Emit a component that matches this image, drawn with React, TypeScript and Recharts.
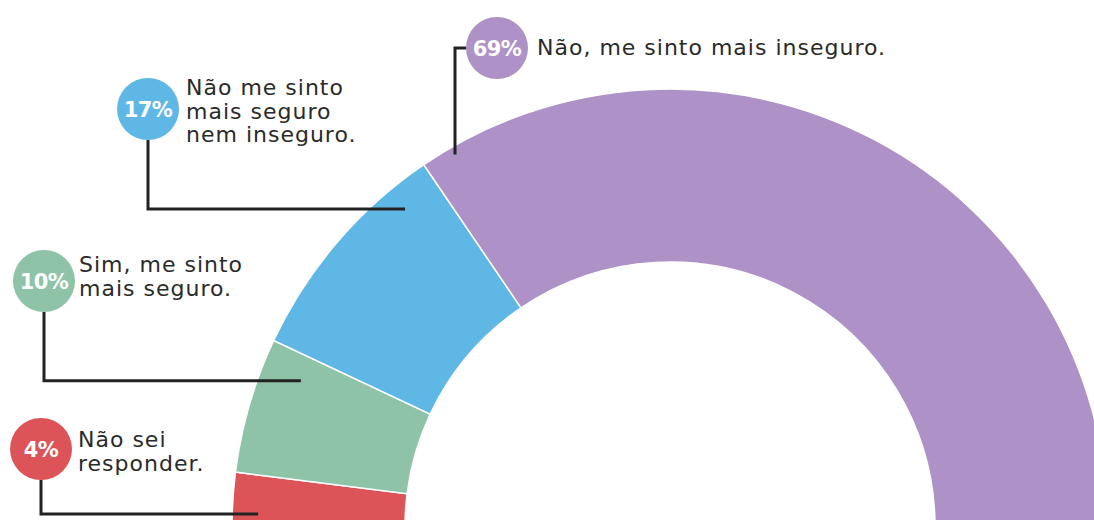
import React from "react";
import { PieChart, Pie, Cell } from "recharts";

const categories = [
  "Não sei responder.",
  "Sim, me sinto mais seguro.",
  "Não me sinto mais seguro nem inseguro.",
  "Não, me sinto mais inseguro.",
];
const values = [4, 10, 17, 69];
const labelLines = [
  ["Não sei", "responder."],
  ["Sim, me sinto", "mais seguro."],
  ["Não me sinto", "mais seguro", "nem inseguro."],
  ["Não, me sinto mais inseguro."],
];
const colors = ["#DD5458", "#8EC3A7", "#5FB7E5", "#AD91C7"];

// annotation layout (badge centre, anchor on slice as angle/radius, text start)
const layout = [
  { bx: 41, by: 449, aAngle: 178.2, aR: 412, tx: 78, ty: 447, kind: "down" },
  { bx: 44, by: 281, aAngle: 158.4, aR: 397, tx: 79, ty: 272, kind: "down" },
  { bx: 148, by: 109, aAngle: 129.8, aR: 414, tx: 186, ty: 95, kind: "down" },
  { bx: 497, by: 48, aAngle: 120.0, aR: 430, tx: 537, ty: 55, kind: "up" },
];

const data = categories.map((name, i) => ({ name, value: values[i] }));
const total = values.reduce((a, b) => a + b, 0);

const FONT = "'DejaVu Sans', Inter, sans-serif";
const BADGE_R = 31;

const renderLabel = (props: any) => {
  const { cx, cy, index } = props;
  const L = layout[index];
  const rad = (L.aAngle * Math.PI) / 180;
  const ax = cx + L.aR * Math.cos(rad);
  const ay = cy - L.aR * Math.sin(rad);
  let d: string;
  if (L.kind === "down") {
    d = `M${L.bx},${L.by + BADGE_R} L${L.bx},${ay} L${ax},${ay}`;
  } else {
    d = `M${ax},${ay} L${ax},${L.by} L${L.bx - BADGE_R},${L.by}`;
  }
  const pct = Math.round((values[index] / total) * 100);
  return (
    <g key={`lab-${index}`}>
      <path d={d} fill="none" stroke="#222" strokeWidth={3} />
      <circle cx={L.bx} cy={L.by} r={BADGE_R} fill={colors[index]} />
      <text
        x={L.bx}
        y={L.by + 1}
        textAnchor="middle"
        dominantBaseline="central"
        fill="#fff"
        fontFamily={FONT}
        fontWeight={700}
        fontSize={21}
        letterSpacing={-0.6}
      >
        {pct}%
      </text>
      <text
        x={L.tx}
        y={L.ty}
        fill="#2a2a2a"
        fontFamily={FONT}
        fontSize={22}
        fontWeight={400}
        letterSpacing={1}
      >
        {labelLines[index].map((ln, j) => (
          <tspan key={j} x={L.tx} dy={j === 0 ? 0 : 23.5}>
            {ln}
          </tspan>
        ))}
      </text>
    </g>
  );
};

export default function App() {
  return (
    <div style={{ position: "absolute", left: 0, top: 0, width: 1094, height: 520, background: "#fff" }}>
      <PieChart width={1094} height={520} margin={{ top: 0, right: 0, bottom: 0, left: 0 }}>
        <Pie
          data={data}
          dataKey="value"
          nameKey="name"
          cx={670}
          cy={527}
          innerRadius={265}
          outerRadius={438}
          startAngle={180}
          endAngle={0}
          stroke="#fff"
          strokeWidth={1.5}
          label={renderLabel}
          labelLine={false}
          isAnimationActive={false}
        >
          {data.map((d, i) => (
            <Cell key={d.name} fill={colors[i]} />
          ))}
        </Pie>
      </PieChart>
    </div>
  );
}
